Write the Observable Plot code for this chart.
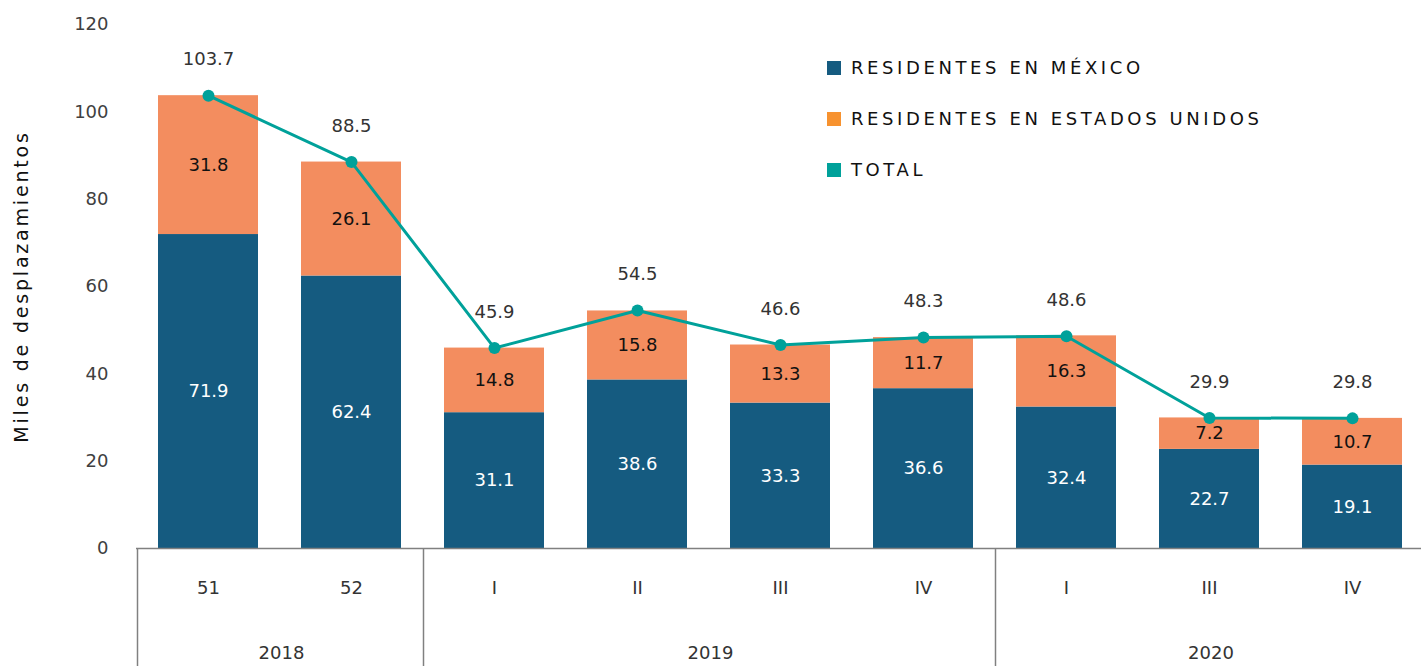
<!DOCTYPE html>
<html>
<head>
<meta charset="utf-8">
<script src="https://cdn.jsdelivr.net/npm/d3@7"></script>
<script src="https://cdn.jsdelivr.net/npm/@observablehq/plot@0.6"></script>
<style>
  html, body { margin: 0; padding: 0; background: #fff; }
  #wrap { position: relative; width: 1421px; height: 666px; font-family: "DejaVu Sans", sans-serif; }
  #legend { position: absolute; left: 827px; top: 42px; }
  .li { display: flex; align-items: center; height: 51px; }
  .sw { width: 14px; height: 14px; margin-right: 10px; }
  .lt { font-size: 18px; letter-spacing: 3.6px; color: #111; }
</style>
</head>
<body>
<div id="wrap"><div id="chart"></div>
<div id="legend"></div></div>
<script>
// ---- data ----
const categories = ["2018-51","2018-52","2019-I","2019-II","2019-III","2019-IV","2020-I","2020-III","2020-IV"];
const tickLabels = ["51","52","I","II","III","IV","I","III","IV"];
const years = ["2018","2019","2020"];
const yearOf = ["2018","2018","2019","2019","2019","2019","2020","2020","2020"];
const mexico = [71.9, 62.4, 31.1, 38.6, 33.3, 36.6, 32.4, 22.7, 19.1];
const usa    = [31.8, 26.1, 14.8, 15.8, 13.3, 11.7, 16.3, 7.2, 10.7];
const total  = [103.7, 88.5, 45.9, 54.5, 46.6, 48.3, 48.6, 29.9, 29.8];
const seriesNames = ["RESIDENTES EN MÉXICO", "RESIDENTES EN ESTADOS UNIDOS", "TOTAL"];
const barColors = {mx: "#155b80", us: "#f38d5f"};
const labelColors = {mx: "#ffffff", us: "#111111"};
const legendColors = ["#155b80", "#f7922f", "#00a19a"];
const teal = "#00a19a";

const stacked = [];
categories.forEach((c, i) => {
  stacked.push({cat: c, series: "mx", value: mexico[i]});
  stacked.push({cat: c, series: "us", value: usa[i]});
});
const totals = categories.map((c, i) => ({cat: c, value: total[i]}));
const fmt = v => v.toFixed(1);

const plot = Plot.plot({
  width: 1421,
  height: 666,
  marginLeft: 136,
  marginRight: 0,
  marginTop: 24,
  marginBottom: 118,
  style: {fontFamily: "DejaVu Sans, sans-serif", fontSize: "18px", color: "#404040", background: "#fff"},
  x: {domain: categories, range: [134.75, 1426.25], paddingInner: 0.3, paddingOuter: 0.15, label: null},
  y: {domain: [0, 120], ticks: [0,20,40,60,80,100,120]},
  color: {type: "identity"},
  marks: [
    Plot.barY(stacked, Plot.stackY({x: "cat", y: "value", z: "series", order: null, fill: d => barColors[d.series]})),
    Plot.text(stacked, Plot.stackY({x: "cat", y: "value", z: "series", order: null, text: d => fmt(d.value), fill: d => labelColors[d.series], fontSize: 18})),
    Plot.ruleY([0], {stroke: "#808080", strokeWidth: 1.5}),
    Plot.line(totals, {x: "cat", y: "value", stroke: teal, strokeWidth: 3}),
    Plot.dot(totals, {x: "cat", y: "value", fill: teal, r: 6}),
    Plot.text(totals, {x: "cat", y: "value", text: d => fmt(d.value), dy: -36, fill: "#333", fontSize: 18}),
    Plot.axisY({ticks: [0,20,40,60,80,100,120], tickSize: 0, tickPadding: 28, fontSize: 18, fill: "#404040",
      label: "Miles de desplazamientos", labelAnchor: "center", labelOffset: 122, labelArrow: "none"}),
    Plot.axisX({tickSize: 0, tickPadding: 33, fontSize: 18, fill: "#333",
      tickFormat: c => tickLabels[categories.indexOf(c)], label: null})
  ]
});
document.getElementById("chart").appendChild(plot);

// year groups and separators, positioned with Plot's own x scale
const xs = plot.scale("x");
const bw = xs.bandwidth, gap = xs.step - xs.bandwidth;
const svg = d3.select(plot);
const g = svg.append("g");
years.forEach(yr => {
  const cats = categories.filter((c, i) => yearOf[i] === yr);
  const x0 = xs.apply(cats[0]), x1 = xs.apply(cats[cats.length - 1]) + bw;
  g.append("text").attr("x", (x0 + x1) / 2 + 2).attr("y", 659)
    .attr("text-anchor", "middle").attr("font-size", 18).attr("fill", "#333").text(yr);
  g.append("line").attr("x1", x0 - gap / 2 + 1).attr("x2", x0 - gap / 2 + 1)
    .attr("y1", 548).attr("y2", 666).attr("stroke", "#808080").attr("stroke-width", 1.5);
});
svg.selectAll("text").filter(function(){ return this.textContent === "Miles de desplazamientos"; })
  .attr("fill", "#111").attr("font-size", 19).style("letter-spacing", "2.8px");

// legend
const lg = document.getElementById("legend");
seriesNames.forEach((n, i) => {
  const row = document.createElement("div"); row.className = "li";
  row.innerHTML = `<div class="sw" style="background:${legendColors[i]}"></div><div class="lt">${n}</div>`;
  lg.appendChild(row);
});
</script>
</body>
</html>
